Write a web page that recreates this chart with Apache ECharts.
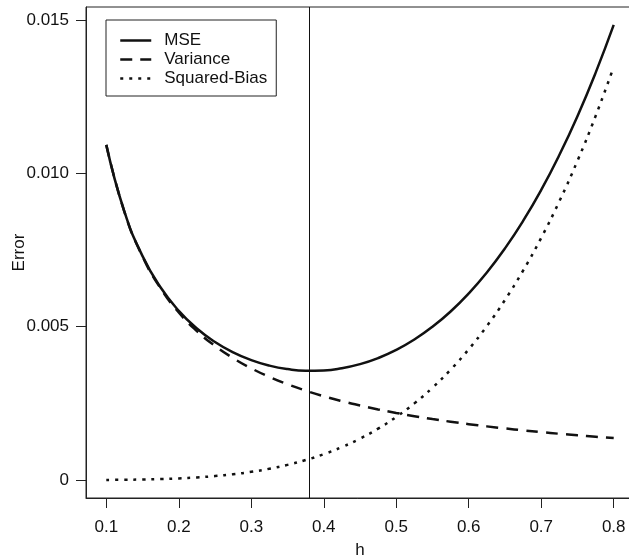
<!DOCTYPE html>
<html>
<head>
<meta charset="utf-8">
<script src="https://cdn.jsdelivr.net/npm/echarts@6/dist/echarts.min.js"></script>
<style>
html,body{margin:0;padding:0;background:#fff;}
#c{width:629px;height:557px;}
</style>
</head>
<body>
<div id="c"></div>
<script>
// Data
const hValues = [0.100,0.125,0.150,0.175,0.200,0.225,0.250,0.275,0.300,0.325,0.350,0.375,0.400,0.425,0.450,0.475,0.500,0.525,0.550,0.575,0.600,0.625,0.650,0.675,0.700,0.725,0.750,0.775,0.800];
const mseValues = [0.01093,0.008752,0.007303,0.006277,0.005518,0.004942,0.004501,0.004163,0.003910,0.003730,0.003617,0.003566,0.003575,0.003645,0.003778,0.003976,0.004242,0.004581,0.004998,0.005497,0.006086,0.006769,0.007555,0.008449,0.009460,0.010598,0.011867,0.013279,0.014842];
const varianceValues = [0.01093,0.008744,0.007287,0.006246,0.005465,0.004858,0.004372,0.003975,0.003643,0.003363,0.003123,0.002915,0.002733,0.002572,0.002429,0.002301,0.002186,0.002082,0.001987,0.001901,0.001822,0.001749,0.001682,0.001619,0.001561,0.001508,0.001457,0.001410,0.001366];
const biasValues = [0.0000033,0.0000080,0.0000167,0.0000309,0.0000526,0.0000843,0.0001285,0.0001882,0.0002665,0.0003671,0.0004937,0.0006506,0.0008422,0.0010734,0.0013491,0.0016748,0.0020563,0.0024994,0.0030106,0.0035964,0.0042638,0.0050201,0.0058728,0.0068298,0.0078993,0.0090897,0.0104098,0.0118687,0.0134758];
const xTicks = [0.1,0.2,0.3,0.4,0.5,0.6,0.7,0.8];
const yTicks = [0,0.005,0.010,0.015];
const yTickLabels = ['0','0.005','0.010','0.015'];
const optimalH = 0.381;
const seriesNames = ['MSE','Variance','Squared-Bias'];

const pairs = ys => hValues.map((h,i)=>[h, ys[i]]);
const ink = '#111';
const FONT = 'Liberation Sans';

const chart = echarts.init(document.getElementById('c'), null, {renderer:'canvas'});
chart.setOption({
  animation:false,
  backgroundColor:'#fff',
  grid:{left:86, top:7, right:-5, bottom:59, outerBoundsMode:'none', containLabel:false,
        show:true, borderColor:'#222', borderWidth:1, backgroundColor:'transparent'},
  legend:{
    show:true, orient:'vertical', left:106, top:20,
    padding:[12,9,9,13], itemGap:2, itemWidth:31, itemHeight:14,
    borderColor:'#222', borderWidth:1, backgroundColor:'#fff',
    itemStyle:{opacity:0},
    lineStyle:{opacity:1, width:2.5},
    textStyle:{fontFamily:FONT, fontSize:17, color:ink, padding:[0,0,0,8]},
    data:seriesNames
  },
  xAxis:{
    type:'value', min:0.072, max:0.828,
    name:'h', nameLocation:'middle', nameGap:44,
    nameTextStyle:{fontFamily:FONT, fontSize:17, color:ink},
    axisLine:{show:true, onZero:false, lineStyle:{color:'#222', width:1}},
    axisTick:{show:true, length:10, customValues:xTicks, lineStyle:{color:'#222', width:1}},
    axisLabel:{show:true, customValues:xTicks, margin:21, fontFamily:FONT, fontSize:17, color:ink,
      formatter:v=>v.toFixed(1)},
    splitLine:{show:false}
  },
  yAxis:{
    type:'value', min:-0.000587, max:0.015427,
    name:'Error', nameLocation:'middle', nameGap:58, nameRotate:90, nameMoveOverlap:false,
    nameTextStyle:{fontFamily:FONT, fontSize:17, color:ink},
    axisLine:{show:true, onZero:false, lineStyle:{color:'#222', width:1}},
    axisTick:{show:true, length:10, customValues:yTicks, lineStyle:{color:'#222', width:1}},
    axisLabel:{show:true, customValues:yTicks, margin:17, fontFamily:FONT, fontSize:17, color:ink,
      formatter:v=>{const i=yTicks.findIndex(t=>Math.abs(t-v)<1e-9); return i>=0?yTickLabels[i]:'';}},
    splitLine:{show:false}
  },
  series:[
    {name:seriesNames[0], type:'line', data:pairs(mseValues), smooth:true, symbol:'none',
     lineStyle:{color:ink, width:2.5, type:'solid'}, itemStyle:{color:ink},
     markLine:{silent:true, symbol:'none', label:{show:false},
       lineStyle:{color:ink, width:1, type:'solid'}, data:[{xAxis:optimalH}]}},
    {name:seriesNames[1], type:'line', data:pairs(varianceValues), smooth:true, symbol:'none',
     lineStyle:{color:ink, width:2.5, type:[12,8]}, itemStyle:{color:ink}},
    {name:seriesNames[2], type:'line', data:pairs(biasValues), smooth:true, symbol:'none',
     lineStyle:{color:ink, width:2.5, type:[3,6]}, itemStyle:{color:ink}}
  ]
});
</script>
</body>
</html>
